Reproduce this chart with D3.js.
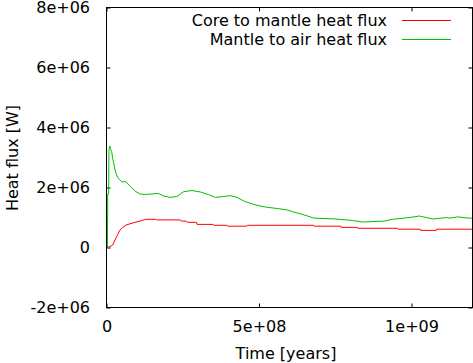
<!DOCTYPE html>
<html>
<head>
<meta charset="utf-8">
<script src="https://cdn.jsdelivr.net/npm/d3@7"></script>
<style>
  html, body { margin: 0; padding: 0; background: #fff; }
  svg { display: block; }
  text { font-family: "DejaVu Sans", sans-serif; font-size: 16px; fill: #000; }
</style>
</head>
<body>
<script>
// ---- data ----
const coreTime = [0, 11e6, 20e6, 28e6, 36e6, 44e6, 53e6, 64e6, 77e6, 94e6, 110e6, 125e6, 132e6, 160e6, 165e6, 242e6, 245e6, 262e6, 265e6, 295e6, 297e6, 350e6, 352e6, 395e6, 397e6, 460e6, 462e6, 680e6, 681e6, 768e6, 769e6, 823e6, 824e6, 955e6, 956e6, 1029e6, 1030e6, 1081e6, 1082e6, 1200e6];
const coreFlux = [0, 0.03e6, 0.08e6, 0.25e6, 0.42e6, 0.58e6, 0.67e6, 0.75e6, 0.79e6, 0.84e6, 0.88e6, 0.93e6, 0.94e6, 0.94e6, 0.92e6, 0.92e6, 0.88e6, 0.88e6, 0.84e6, 0.84e6, 0.77e6, 0.77e6, 0.74e6, 0.74e6, 0.71e6, 0.71e6, 0.74e6, 0.74e6, 0.71e6, 0.71e6, 0.67e6, 0.67e6, 0.64e6, 0.64e6, 0.61e6, 0.61e6, 0.57e6, 0.57e6, 0.61e6, 0.61e6];

const mantleTime = [0, 3e6, 4e6, 7e6, 8e6, 11e6, 13e6, 17e6, 20e6, 24e6, 28e6, 33e6, 39e6, 50e6, 64e6, 77e6, 94e6, 110e6, 132e6, 170e6, 187e6, 209e6, 231e6, 253e6, 280e6, 308e6, 335e6, 357e6, 384e6, 406e6, 428e6, 450e6, 478e6, 505e6, 527e6, 560e6, 593e6, 614e6, 637e6, 659e6, 680e6, 752e6, 807e6, 840e6, 910e6, 938e6, 975e6, 1008e6, 1025e6, 1048e6, 1070e6, 1097e6, 1114e6, 1125e6, 1152e6, 1185e6, 1200e6];
const mantleFlux = [0, 0, 1.78e6, 1.78e6, 3.25e6, 3.38e6, 3.3e6, 3.2e6, 2.97e6, 2.8e6, 2.58e6, 2.42e6, 2.3e6, 2.19e6, 2.19e6, 2.05e6, 1.88e6, 1.78e6, 1.77e6, 1.8e6, 1.72e6, 1.67e6, 1.7e6, 1.86e6, 1.9e6, 1.85e6, 1.76e6, 1.67e6, 1.7e6, 1.73e6, 1.67e6, 1.55e6, 1.45e6, 1.38e6, 1.34e6, 1.3e6, 1.25e6, 1.18e6, 1.12e6, 1.05e6, 0.98e6, 0.95e6, 0.9e6, 0.85e6, 0.88e6, 0.94e6, 0.98e6, 1.02e6, 1.05e6, 1.0e6, 0.95e6, 0.98e6, 1.0e6, 0.98e6, 1.02e6, 0.98e6, 0.98e6];

const seriesNames = ["Core to mantle heat flux", "Mantle to air heat flux"];
const seriesColors = ["#ff0000", "#00c000"];

const xTickValues = [0, 5e8, 1e9];
const xTickLabels = ["0", "5e+08", "1e+09"];
const yTickValues = [-2e6, 0, 2e6, 4e6, 6e6, 8e6];
const yTickLabels = ["-2e+06", "0", "2e+06", "4e+06", "6e+06", "8e+06"];

const xLabel = "Time [years]";
const yLabel = "Heat flux [W]";

// ---- layout ----
const W = 473, H = 363;
const L = 106.5, R = 472.5, T = 7.5, B = 307.5;

const svg = d3.select("body").append("svg").attr("width", W).attr("height", H);

const x = d3.scaleLinear().domain([0, 1.2e9]).range([L, R]);
const y = d3.scaleLinear().domain([-2e6, 8e6]).range([B, T]);

const tick = 4;

function styleAxis(g) {
  g.select(".domain").remove();
  g.selectAll(".tick line").attr("stroke", "#000");
  g.selectAll("text").attr("font-family", null).attr("font-size", null).attr("fill", "#000");
}

svg.append("g").attr("transform", `translate(0,${B})`)
  .call(d3.axisBottom(x).tickValues(xTickValues)
    .tickFormat((d, i) => xTickLabels[i]).tickSizeInner(-tick).tickSizeOuter(0).tickPadding(13))
  .call(styleAxis);
svg.append("g").attr("transform", `translate(0,${T})`)
  .call(d3.axisTop(x).tickValues(xTickValues).tickFormat("").tickSizeInner(-tick).tickSizeOuter(0))
  .call(styleAxis);
svg.append("g").attr("transform", `translate(${L},0)`)
  .call(d3.axisLeft(y).tickValues(yTickValues)
    .tickFormat((d, i) => yTickLabels[i]).tickSizeInner(-tick).tickSizeOuter(0).tickPadding(16.5))
  .call(styleAxis);
svg.append("g").attr("transform", `translate(${R},0)`)
  .call(d3.axisRight(y).tickValues(yTickValues).tickFormat("").tickSizeInner(-tick).tickSizeOuter(0))
  .call(styleAxis);

// series
const series = [
  d3.zip(coreTime, coreFlux),
  d3.zip(mantleTime, mantleFlux)
];
const line = d3.line().x(d => x(d[0])).y(d => y(d[1]));
series.forEach((s, i) => {
  svg.append("path").attr("d", line(s)).attr("fill", "none")
    .attr("stroke", seriesColors[i]).attr("stroke-width", 1);
});

// border
svg.append("rect").attr("x", L).attr("y", T).attr("width", R - L).attr("height", B - T)
  .attr("fill", "none").attr("stroke", "#000").attr("stroke-width", 1);

// legend
const legY = [20.5, 39.5];
seriesNames.forEach((n, i) => {
  svg.append("text").attr("x", 387).attr("y", legY[i]).attr("dy", "0.35em")
    .attr("text-anchor", "end").text(n);
  svg.append("line").attr("x1", 402).attr("x2", 451).attr("y1", legY[i]).attr("y2", legY[i])
    .attr("stroke", seriesColors[i]).attr("stroke-width", 1);
});

// axis labels
svg.append("text").attr("x", 286).attr("y", 359).attr("text-anchor", "middle").text(xLabel);
svg.append("text").attr("transform", `translate(18,158) rotate(-90)`)
  .attr("text-anchor", "middle").text(yLabel);
</script>
</body>
</html>
